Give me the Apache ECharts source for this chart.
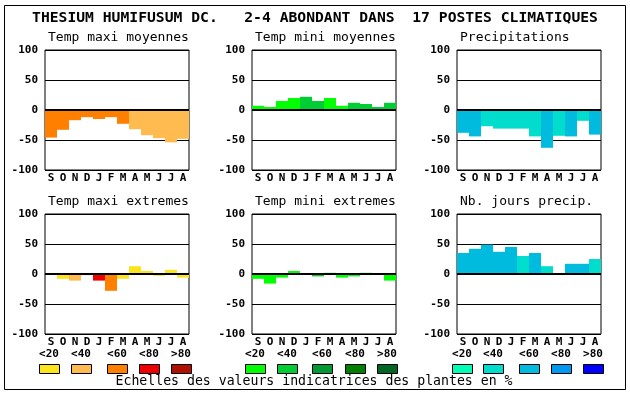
<!DOCTYPE html>
<html><head><meta charset="utf-8">
<script src="https://cdn.jsdelivr.net/npm/echarts@6/dist/echarts.min.js"></script>
<style>html,body{margin:0;padding:0;background:#fff}#c{width:630px;height:394px}</style>
</head><body><div id="c"></div>
<script>
const months = ['S','O','N','D','J','F','M','A','M','J','J','A'];
const yTicks = [-100,-50,0,50,100];
const title = 'THESIUM HUMIFUSUM DC.   2-4 ABONDANT DANS  17 POSTES CLIMATIQUES';
const footer = 'Echelles des valeurs indicatrices des plantes en %';
const classLabels = ['<20','<40','<60','<80','>80'];

const warm = ['#FCE41C','#FFBA50','#FF8000','#EE0000','#B01000'];
const green = ['#00FF00','#00CC33','#009933','#008000','#006622'];
const blue = ['#00FFB4','#00DDCC','#00BBDD','#0099EE','#0000FF'];

const tmaxMoyTitle = 'Temp maxi moyennes';
const tmaxMoy = [-46,-33,-17,-12,-15,-12,-23,-32,-42,-47,-54,-48];
const tmaxMoyCls = [2,2,2,2,2,2,2,1,1,1,1,1];

const tminMoyTitle = 'Temp mini moyennes';
const tminMoy = [7,5,15,20,22,15,20,7,12,10,5,12];
const tminMoyCls = [0,0,0,0,1,1,0,0,1,1,1,1];

const precTitle = 'Precipitations';
const prec = [-38,-44,-27,-31,-31,-31,-44,-63,-43,-44,-18,-41];
const precCls = [2,2,1,1,1,1,1,2,1,2,1,2];

const tmaxExtTitle = 'Temp maxi extremes';
const tmaxExt = [0,-8,-11,-2,-11,-28,-8,13,5,-3,7,-6];
const tmaxExtCls = [0,0,1,1,3,2,0,0,0,0,0,0];

const tminExtTitle = 'Temp mini extremes';
const tminExt = [-8,-16,-6,5,0,-4,2,-6,-4,2,0,-11];
const tminExtCls = [0,0,0,0,0,1,0,0,0,0,0,0];

const nbjTitle = 'Nb. jours precip.';
const nbj = [35,42,49,37,45,30,35,13,0,17,17,25];
const nbjCls = [2,2,2,2,2,1,2,1,2,2,2,1];

const panels = [
  {t:tmaxMoyTitle, v:tmaxMoy, c:tmaxMoyCls, p:warm, left:45, top:50},
  {t:tminMoyTitle, v:tminMoy, c:tminMoyCls, p:green, left:252, top:50},
  {t:precTitle, v:prec, c:precCls, p:blue, left:457, top:50},
  {t:tmaxExtTitle, v:tmaxExt, c:tmaxExtCls, p:warm, left:45, top:214},
  {t:tminExtTitle, v:tminExt, c:tminExtCls, p:green, left:252, top:214},
  {t:nbjTitle, v:nbj, c:nbjCls, p:blue, left:457, top:214}
];
const MONO = '"DejaVu Sans Mono", monospace';
const grid=[], xAxis=[], yAxis=[], series=[], graphic=[];
panels.forEach((pn,i)=>{
  grid.push({left:pn.left, top:pn.top, width:144, height:120, show:true, borderColor:'#000', borderWidth:1, backgroundColor:'transparent'});
  xAxis.push({type:'category', gridIndex:i, data:months, axisTick:{show:false},
    axisLine:{show:false}, axisLabel:{color:'#000', fontFamily:MONO, fontWeight:'bold', fontSize:11, margin:3, interval:0}});
  yAxis.push({type:'value', gridIndex:i, min:-100, max:100, interval:50,
    axisLine:{show:false}, axisTick:{show:false},
    splitLine:{show:true, lineStyle:{color:'#000', width:1}},
    axisLabel:{color:'#000', fontFamily:MONO, fontWeight:'bold', fontSize:11, margin:7}});
  series.push({type:'bar', xAxisIndex:i, yAxisIndex:i, barCategoryGap:'0%', barGap:'0%',
    data: pn.v.map((v,k)=>({value:v, itemStyle:{color:pn.p[pn.c[k]]}})),
    markLine:{silent:true, symbol:['none','none'], label:{show:false}, animation:false,
      lineStyle:{color:'#000', width:2, type:'solid'}, data:[{yAxis:0}]}});
  graphic.push({type:'text', left:pn.left+3, top:pn.top-19,
    style:{text:pn.t, font:'13px '+MONO, fill:'#000'}});
});
graphic.push({type:'rect', shape:{x:4.5, y:5.5, width:621, height:384}, style:{fill:'none', stroke:'#000', lineWidth:1}, z:-1});
graphic.push({type:'text', x:315, y:18, style:{text:title, font:'bold 14.7px '+MONO, fill:'#000', textAlign:'center', textVerticalAlign:'middle'}});
graphic.push({type:'text', x:314, y:382, style:{text:footer, font:'13.2px '+MONO, fill:'#000', textAlign:'center', textVerticalAlign:'middle'}});
const legendX = [[39,71,107,139,171],[245,277,312,345,377],[452,483,519,551,583]];
const pals = [warm, green, blue];
legendX.forEach((xs,g)=>{
  xs.forEach((x,k)=>{
    graphic.push({type:'rect', shape:{x:x+0.5, y:364.5, width:20, height:9}, style:{fill:pals[g][k], stroke:'#000', lineWidth:1}});
    graphic.push({type:'text', x:x+10, y:354, style:{text:classLabels[k], font:'bold 11px '+MONO, fill:'#000', textAlign:'center', textVerticalAlign:'middle'}});
  });
});
const chart = echarts.init(document.getElementById('c'), null, {renderer:'canvas'});
chart.setOption({animation:false, backgroundColor:'#fff', grid, xAxis, yAxis, series, graphic});
</script></body></html>
